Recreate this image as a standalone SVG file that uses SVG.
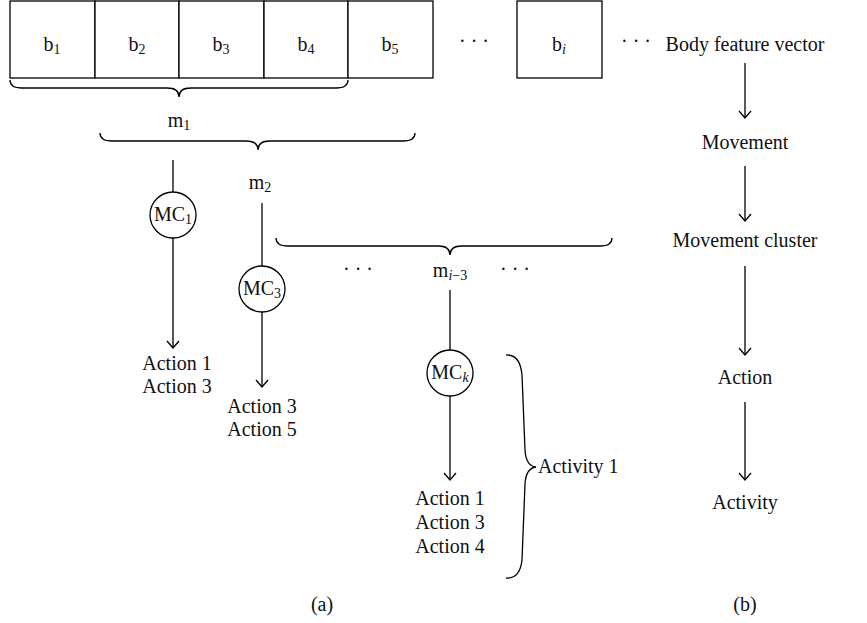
<svg xmlns="http://www.w3.org/2000/svg" width="867" height="623" viewBox="0 0 867 623">
<defs>
<marker id="arr" markerUnits="userSpaceOnUse" markerWidth="16" markerHeight="16" refX="8" refY="8" orient="auto" overflow="visible">
<path d="M1,2 L8,8 L1,14" fill="none" stroke="#000" stroke-width="1.3"/>
</marker>
</defs>
<style>
text{font-family:"Liberation Serif","Times New Roman",serif;font-size:20px;fill:#111}
.c{text-anchor:middle}
.box{fill:#fff;stroke:#000;stroke-width:1.3}
.ln{fill:none;stroke:#000;stroke-width:1.3}
.br{fill:none;stroke:#000;stroke-width:1.3}
.sub{font-size:14px}
</style>
<rect width="867" height="623" fill="#fff"/>
<g id="b1"><rect class="box" x="10" y="1" width="85" height="77"/><text class="c" x="52" y="51">b<tspan class="sub" dy="3">1</tspan></text></g>
<g id="b2"><rect class="box" x="95" y="1" width="84" height="77"/><text class="c" x="137" y="51">b<tspan class="sub" dy="3">2</tspan></text></g>
<g id="b3"><rect class="box" x="179" y="1" width="85" height="77"/><text class="c" x="221" y="51">b<tspan class="sub" dy="3">3</tspan></text></g>
<g id="b4"><rect class="box" x="264" y="1" width="84" height="77"/><text class="c" x="306" y="51">b<tspan class="sub" dy="3">4</tspan></text></g>
<g id="b5"><rect class="box" x="348" y="1" width="85" height="77"/><text class="c" x="390" y="51">b<tspan class="sub" dy="3">5</tspan></text></g>
<g id="dots1"><text class="c" x="474" y="48">· · ·</text></g>
<g id="bi"><rect class="box" x="517" y="1" width="85" height="77"/><text class="c" x="559" y="51">b<tspan class="sub" dy="3" font-style="italic">i</tspan></text></g>
<g id="dots2"><text class="c" x="636" y="48">· · ·</text></g>

<g id="m1"><text class="c" x="179" y="127">m<tspan class="sub" dy="3">1</tspan></text></g>
<g id="m2"><text class="c" x="260" y="189">m<tspan class="sub" dy="3">2</tspan></text></g>
<g id="dots3"><text class="c" x="358" y="276">· · ·</text></g>
<g id="mi3"><text class="c" x="450" y="277">m<tspan class="sub" dy="3"><tspan font-style="italic">i</tspan>−3</tspan></text></g>
<g id="dots4"><text class="c" x="515" y="276">· · ·</text></g>

<g id="MC1"><circle class="box" cx="173" cy="215" r="23"/><text class="c" x="173" y="221">MC<tspan class="sub" dy="3">1</tspan></text></g>
<g id="MC3"><circle class="box" cx="262" cy="289" r="23"/><text class="c" x="262" y="295">MC<tspan class="sub" dy="3">3</tspan></text></g>
<g id="MCk"><circle class="box" cx="450" cy="373" r="23"/><text class="c" x="450" y="379">MC<tspan class="sub" dy="3" font-style="italic">k</tspan></text></g>

<g id="actions1"><text class="c" x="177" y="370">Action 1</text><text class="c" x="177" y="393">Action 3</text></g>
<g id="actions2"><text class="c" x="262" y="413">Action 3</text><text class="c" x="262" y="436">Action 5</text></g>
<g id="actions3"><text class="c" x="450" y="505">Action 1</text><text class="c" x="450" y="529">Action 3</text><text class="c" x="450" y="553">Action 4</text></g>
<g id="activity1"><text x="538" y="473">Activity 1</text></g>

<g id="r-bfv"><text class="c" x="745" y="51">Body feature vector</text></g>
<g id="r-mov"><text class="c" x="745" y="149">Movement</text></g>
<g id="r-movc"><text class="c" x="745" y="247">Movement cluster</text></g>
<g id="r-act"><text class="c" x="745" y="384">Action</text></g>
<g id="r-activity"><text class="c" x="745" y="509">Activity</text></g>

<g id="captions"><text class="c" x="322" y="611">(a)</text><text class="c" x="745" y="611">(b)</text></g>

<g id="connectors">
<path class="br" d="M10,80 Q10,88 22,88 L167,88 Q179,88 179,97 Q179,88 191,88 L336,88 Q348,88 348,80"/>
<path class="br" d="M100,133 Q100,141 112,141 L246,141 Q258,141 258,150 Q258,141 270,141 L403,141 Q415,141 415,133"/>
<path class="br" d="M276,238 Q276,246 288,246 L438,246 Q450,246 450,255 Q450,246 462,246 L600,246 Q612,246 612,238"/>
<path class="br" d="M506,355 Q520,354 522,375 L525,450 Q526,466 536,467 Q526,468 525,484 L522,560 Q520,579 506,578"/>
<line class="ln" x1="173" y1="160" x2="173" y2="192"/>
<line class="ln" x1="173" y1="238" x2="173" y2="348" marker-end="url(#arr)"/>
<line class="ln" x1="262" y1="203" x2="262" y2="266"/>
<line class="ln" x1="262" y1="312" x2="262" y2="387" marker-end="url(#arr)"/>
<line class="ln" x1="450" y1="290" x2="450" y2="350"/>
<line class="ln" x1="450" y1="396" x2="450" y2="480" marker-end="url(#arr)"/>
<line class="ln" x1="745" y1="63" x2="745" y2="118" marker-end="url(#arr)"/>
<line class="ln" x1="745" y1="166" x2="745" y2="221" marker-end="url(#arr)"/>
<line class="ln" x1="745" y1="266" x2="745" y2="355" marker-end="url(#arr)"/>
<line class="ln" x1="745" y1="402" x2="745" y2="480" marker-end="url(#arr)"/>
</g>
</svg>
